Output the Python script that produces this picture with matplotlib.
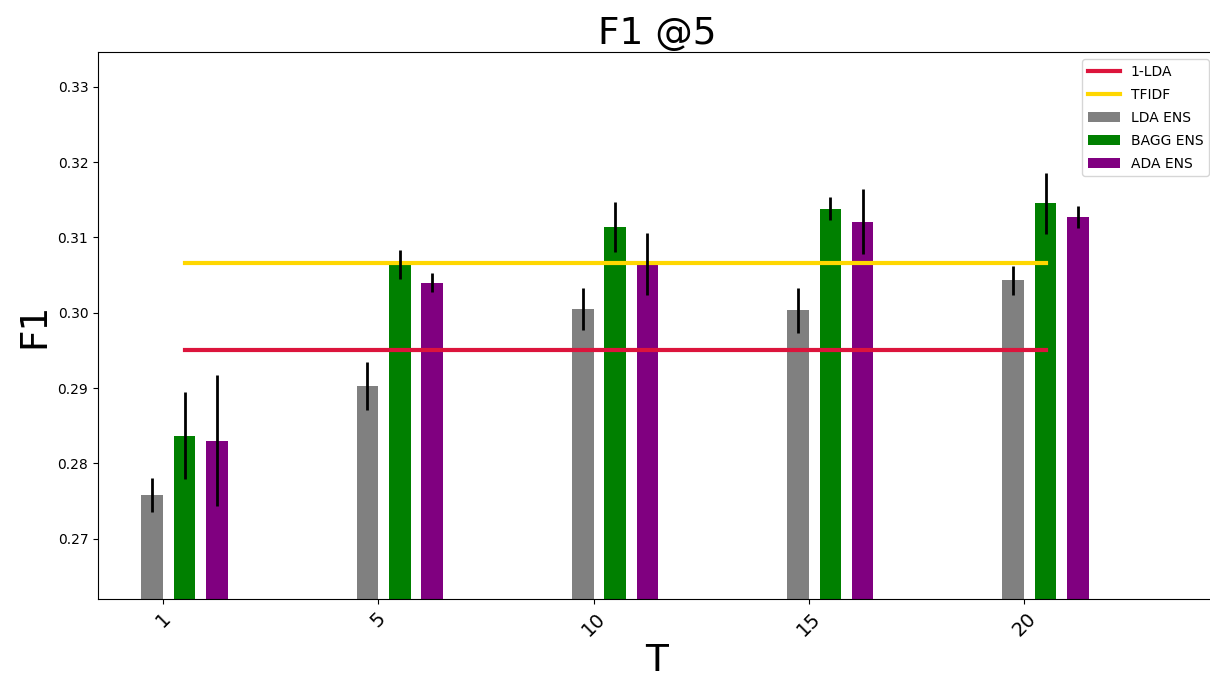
import numpy as np
import matplotlib
matplotlib.use("Agg")
import matplotlib.pyplot as plt

# Data
T_labels = ["1", "5", "10", "15", "20"]
lda_ens = [0.2758, 0.2903, 0.3005, 0.3003, 0.3043]
lda_ens_err = [0.0023, 0.0032, 0.0028, 0.0030, 0.0019]
bagg_ens = [0.2837, 0.3064, 0.3114, 0.3138, 0.3145]
bagg_ens_err = [0.0058, 0.0019, 0.0033, 0.0015, 0.0041]
ada_ens = [0.2830, 0.3040, 0.3065, 0.3121, 0.3127]
ada_ens_err = [0.0087, 0.0013, 0.0041, 0.0043, 0.0014]
one_lda = 0.2950
tfidf = 0.3066

x = np.arange(len(T_labels))
w = 0.1

fig = plt.figure(figsize=(12.1, 6.81), dpi=100)
ax = fig.add_axes([98/1210, 1 - 599/681, (1216 - 98)/1210, (599 - 52)/681])

ax.plot([x[0] + 0.1, x[-1] + 0.1], [one_lda, one_lda], color="crimson", lw=3, label="1-LDA")
ax.plot([x[0] + 0.1, x[-1] + 0.1], [tfidf, tfidf], color="gold", lw=3, label="TFIDF")

ax.bar(x - 0.05, lda_ens, w, yerr=lda_ens_err, color="grey", label="LDA ENS",
       error_kw=dict(elinewidth=2, ecolor="black"))
ax.bar(x + 0.1, bagg_ens, w, yerr=bagg_ens_err, color="green", label="BAGG ENS",
       error_kw=dict(elinewidth=2, ecolor="black"))
ax.bar(x + 0.25, ada_ens, w, yerr=ada_ens_err, color="purple", label="ADA ENS",
       error_kw=dict(elinewidth=2, ecolor="black"))

ax.set_xlim(-0.302, 4.892)
ax.set_ylim(0.2620, 0.3346)
ax.set_yticks([0.27, 0.28, 0.29, 0.30, 0.31, 0.32, 0.33])
ax.set_xticks(x)
ax.set_xticklabels(T_labels, rotation=45, fontsize=14)
ax.set_title("F1 @5", fontsize=27)
ax.set_xlabel("T", fontsize=27, labelpad=2)
ax.set_ylabel("F1", fontsize=27)
ax.legend(loc="upper right", fontsize=10, handlelength=2.3, labelspacing=0.65)

fig.savefig("out.png", dpi=100)
